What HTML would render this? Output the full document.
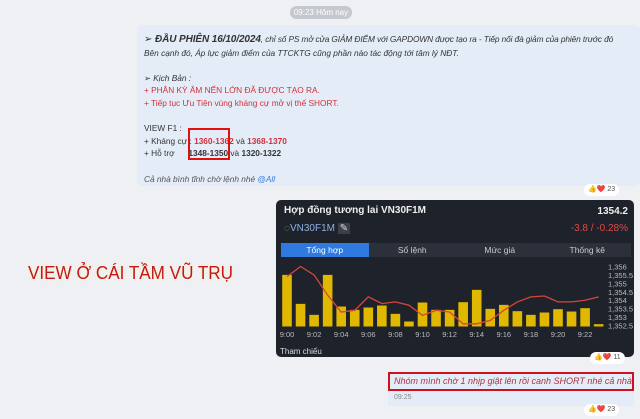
<!DOCTYPE html>
<html><head><meta charset="utf-8">
<style>
*{box-sizing:border-box;margin:0;padding:0}
body{width:640px;height:419px;overflow:hidden;background:#eef0f4;font-family:"Liberation Sans","DejaVu Sans",sans-serif;position:relative}
.abs{position:absolute}
.pill{left:290px;top:6px;width:62px;height:13px;border-radius:7px;background:#c4c8cf;color:#fff;font-size:8px;text-align:center;line-height:13px}
.bubble{left:137px;top:25px;width:503px;height:161px;background:#e4ecf8;border-radius:6px;font-size:8.3px;color:#333;padding:8px 6px 0 7px;line-height:12.6px;white-space:nowrap;overflow:hidden}
.i{font-style:italic}
.red{color:#d0303a}
.react{background:#fff;border-radius:8px;height:12px;font-size:7px;line-height:12px;padding:0 4px;color:#555}
.card{left:276px;top:200px;width:358px;height:157px;background:#1e222b;border-radius:5px;color:#ddd}
.tabs{left:5px;top:43px;width:350px;height:14px;background:#2b303a;display:flex;font-size:8.5px;line-height:14px}
.tabs div{flex:1;text-align:center;color:#ccc}
</style></head><body>
<div class="abs pill">09:23 Hôm nay</div>
<div class="abs bubble">
<div class="i" style="letter-spacing:-0.1px"><b style="font-size:10px">➢ ĐẦU PHIÊN 16/10/2024</b>, chỉ số PS mở cửa GIẢM ĐIỂM với GAPDOWN được tạo ra - Tiếp nối đà giảm của phiên trước đó</div>
<div class="i">Bên cạnh đó, Áp lực giảm điểm của TTCKTG cũng phần nào tác động tới tâm lý NĐT.</div>
<div>&nbsp;</div>
<div class="i">➢ Kịch Bản :</div>
<div class="red">+ PHÂN KỲ ÂM NẾN LỚN ĐÃ ĐƯỢC TẠO RA.</div>
<div class="red">+ Tiếp tục Ưu Tiên vùng kháng cự mở vị thế SHORT.</div>
<div>&nbsp;</div>
<div>VIEW F1 :</div>
<div>+ Kháng cự : <b class="red">1360-1362</b> và <b class="red">1368-1370</b></div>
<div>+ Hỗ trợ &nbsp;&nbsp;&nbsp;&nbsp;&nbsp;<b>1348-1350</b> và <b>1320-1322</b></div>
<div>&nbsp;</div>
<div class="i" style="color:#555">Cả nhà bình tĩnh chờ lệnh nhé <span style="color:#3a7bd5">@All</span></div>
</div>
<div class="abs" style="left:188px;top:128px;width:42px;height:32px;border:2px solid #e01010"></div>
<div class="abs react" style="left:584px;top:184px">👍❤️ 23</div>
<div class="abs" style="left:28px;top:263px;font-size:18px;color:#c4161c;transform:scaleX(0.95);transform-origin:left;text-shadow:0 0 3px #fff5b0;white-space:nowrap">VIEW Ở CÁI TẦM VŨ TRỤ</div>
<div class="abs card">
<div class="abs" style="left:8px;top:5px;font-size:10px;font-weight:bold;color:#eee">Hợp đồng tương lai VN30F1M</div>
<div class="abs" style="right:6px;top:6px;font-size:10px;font-weight:bold;color:#eee">1354.2</div>
<div class="abs" style="left:8px;top:23px;font-size:10px;color:#8fb0e0"><span style="color:#4c4">◌</span>VN30F1M <span style="background:#3a3f4a;color:#ddd;padding:0 2px">✎</span></div>
<div class="abs" style="right:6px;top:23px;font-size:10px;color:#e04848">-3.8 / -0.28%</div>
<div class="abs tabs">
<div style="background:#2f7ae0;color:#fff">Tổng hợp</div>
<div>Sổ lệnh</div>
<div>Mức giá</div>
<div>Thống kê</div></div>
<svg class="abs" style="left:0;top:0" width="358" height="157" id="ch"></svg>
<div class="abs" style="left:4px;top:147px;font-size:8px;color:#ddd">Tham chiếu</div>
</div>
<div class="abs react" style="left:590px;top:352px">👍❤️ 11</div>
<div class="abs" style="left:388px;top:372px;width:246px;height:19px;border:2px solid #d01020;background:#e4ecf8;font-size:9px;font-style:italic;color:#b03040;line-height:15px;padding-left:4px;white-space:nowrap;overflow:hidden">Nhóm mình chờ 1 nhịp giật lên rồi canh SHORT nhé cả nhà <span style="color:#3a7bd5">@All</span></div>
<div class="abs" style="left:388px;top:391px;width:246px;height:15px;background:#e4ecf8;font-size:7px;color:#888;padding:3px 6px">09:25</div>
<div class="abs react" style="left:584px;top:404px">👍❤️ 23</div>
<script>
const times=["9:00","9:01","9:02","9:03","9:04","9:05","9:06","9:07","9:08","9:09","9:10","9:11","9:12","9:13","9:14","9:15","9:16","9:17","9:18","9:19","9:20","9:21","9:22","9:23"];
const volumes=[155,68,35,155,60,50,57,63,38,15,72,50,50,73,110,53,65,46,35,42,52,45,55,7];
const prices=[1355.4,1356,1355.5,1354.3,1353.3,1353.4,1354.2,1353.8,1353.9,1353.7,1353.1,1353.4,1353.3,1352.6,1352.6,1352.8,1353.4,1353.9,1354.2,1354.25,1353.9,1353.9,1354,1354.2];
const yTicks=[1356,1355.5,1355,1354.5,1354,1353.5,1353,1352.5];
const ns="http://www.w3.org/2000/svg",svg=document.getElementById('ch');
const x=i=>11+i*13.55, base=126.5;
const yv=v=>base-v*0.333;
const yp=p=>66.5+(1356-p)*(125.5-66.5)/3.5;
function mk(t,a){const e=document.createElementNS(ns,t);for(const k in a)e.setAttribute(k,a[k]);svg.appendChild(e);return e;}
volumes.forEach((v,i)=>{const r=mk('rect',{x:x(i)-4.8,y:yv(v),width:9.6,height:base-yv(v),fill:'#e0b800'});

});
const l=mk('polyline',{points:prices.map((p,i)=>x(i)+','+yp(p)).join(' '),fill:'none',stroke:'#d8453a','stroke-width':1.3});


yTicks.forEach(t=>{const e=mk('text',{x:332,y:yp(t)+3,'font-size':7.5,fill:'#bbb','font-family':'Liberation Sans'});e.textContent=t.toLocaleString('en-US');

});
times.forEach((t,i)=>{if(i%2)return;const e=mk('text',{x:x(i),y:137,'font-size':7.5,fill:'#bbb','text-anchor':'middle','font-family':'Liberation Sans'});e.textContent=t;

});
</script>
</body></html>
